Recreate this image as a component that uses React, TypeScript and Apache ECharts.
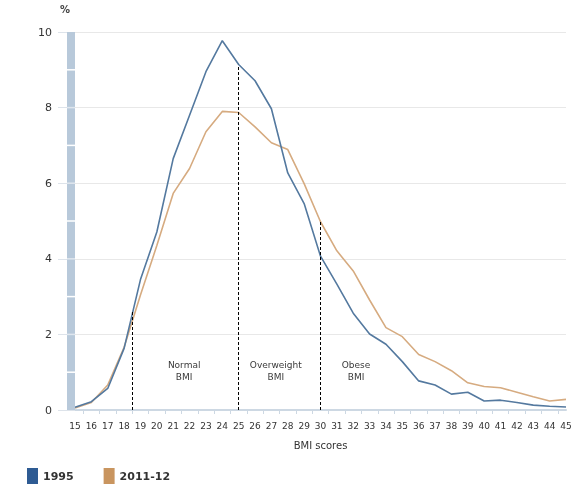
import { useEffect, useRef } from 'react';
import * as echarts from 'echarts';

const bmi = [15, 16, 17, 18, 19, 20, 21, 22, 23, 24, 25, 26, 27, 28, 29, 30, 31, 32, 33, 34, 35, 36, 37, 38, 39, 40, 41, 42, 43, 44, 45];
const values1995 = [0.07, 0.22, 0.57, 1.63, 3.45, 4.71, 6.65, 7.8, 8.95, 9.77, 9.14, 8.71, 7.97, 6.27, 5.46, 4.07, 3.33, 2.56, 2.01, 1.74, 1.28, 0.77, 0.66, 0.42, 0.47, 0.24, 0.26, 0.2, 0.13, 0.1, 0.08];
const values2011 = [0.05, 0.2, 0.66, 1.66, 3.04, 4.35, 5.73, 6.39, 7.36, 7.9, 7.87, 7.49, 7.07, 6.89, 5.99, 4.98, 4.21, 3.68, 2.91, 2.18, 1.94, 1.47, 1.28, 1.04, 0.72, 0.62, 0.59, 0.47, 0.35, 0.24, 0.28];

const cutoffs = [18.5, 25, 30];
const cutoffHeights = [2.6, 9.13, 4.98];

const zoneLabels = ['Normal\nBMI', 'Overweight\nBMI', 'Obese\nBMI'];
const zoneX = [21.7, 27.3, 32.2];
const zoneY = 1.02;

const FONT = '"DejaVu Sans", Verdana, sans-serif';

export default function App() {
  const chartRef = useRef<HTMLDivElement>(null);

  useEffect(() => {
    if (!chartRef.current) return;
    const chart = echarts.init(chartRef.current, null, { renderer: 'svg' });

    const option = {
      animation: false,
      textStyle: { fontFamily: FONT },
      grid: { left: 75, right: 14, top: 32, bottom: 83 },
      legend: {
        left: 22,
        top: 463,
        itemWidth: 11,
        itemHeight: 16,
        itemGap: 30,
        icon: 'rect',
        textStyle: { fontFamily: FONT, fontSize: 11, fontWeight: 'bold', color: '#333' },
        data: [
          { name: '1995', itemStyle: { color: '#2e5b93' } },
          { name: '2011-12', itemStyle: { color: '#c9955f' } },
        ],
      },
      xAxis: {
        type: 'value',
        min: 15,
        max: 45,
        interval: 1,
        name: 'BMI scores',
        nameLocation: 'middle',
        nameGap: 30,
        nameTextStyle: { fontFamily: FONT, fontSize: 10, color: '#333' },
        axisLine: { lineStyle: { color: '#cdd8e3', width: 2 } },
        axisTick: { show: false },
        minorTick: { show: true, splitNumber: 2, length: 4, lineStyle: { color: '#cdd8e3', width: 1 } },
        axisLabel: { fontFamily: FONT, fontSize: 9, color: '#333', margin: 11 },
        splitLine: { show: false },
      },
      yAxis: {
        type: 'value',
        min: 0,
        max: 10,
        interval: 2,
        axisLine: { show: false },
        axisTick: { show: true, length: 17, lineStyle: { color: '#dde3ea' } },
        axisLabel: { fontFamily: FONT, fontSize: 11, color: '#333', margin: 23 },
        splitLine: { lineStyle: { color: '#e8e8e8', width: 1 } },
      },
      series: [
        {
          name: '1995',
          type: 'line',
          data: bmi.map((x, i) => [x, values1995[i]]),
          showSymbol: false,
          color: '#2e5b93',
          lineStyle: { color: '#54799f', width: 1.6 },
          z: 3,
          markLine: {
            silent: true,
            symbol: 'none',
            label: { show: false },
            lineStyle: { color: '#000', type: [3, 2], width: 1 },
            data: cutoffs.map((c, i) => [{ coord: [c, 0] }, { coord: [c, cutoffHeights[i]] }]),
          },
        },
        {
          name: '2011-12',
          type: 'line',
          data: bmi.map((x, i) => [x, values2011[i]]),
          showSymbol: false,
          color: '#c9955f',
          lineStyle: { color: '#d6ab80', width: 1.6 },
          z: 2,
        },
        {
          name: 'zones',
          type: 'scatter',
          silent: true,
          symbol: 'circle',
          symbolSize: 1,
          itemStyle: { color: 'rgba(0,0,0,0)' },
          data: zoneLabels.map((n, i) => ({ name: n, value: [zoneX[i], zoneY] })),
          label: {
            show: true,
            position: [0, 0],
            align: 'center',
            verticalAlign: 'middle',
            formatter: '{b}',
            fontFamily: FONT,
            fontSize: 9,
            lineHeight: 12,
            color: '#000',
            textBorderWidth: 0,
          },
        },
      ],
    };

    chart.setOption(option);

    const [bx, by0] = chart.convertToPixel({ gridIndex: 0 }, [15, 0]) as number[];
    const by10 = (chart.convertToPixel({ gridIndex: 0 }, [15, 10]) as number[])[1];
    const seps = [1, 2, 3, 4, 5, 6, 7, 8, 9].map((v) => {
      const y = (chart.convertToPixel({ gridIndex: 0 }, [15, v]) as number[])[1];
      return {
        type: 'line',
        z: 11,
        shape: { x1: bx - 8, y1: y, x2: bx, y2: y },
        style: { stroke: v % 2 ? '#ffffff' : '#dfe6ee', lineWidth: 1.5 },
      };
    });

    chart.setOption({
      graphic: [
        {
          type: 'rect',
          z: 10,
          shape: { x: bx - 8, y: by10, width: 8, height: by0 - by10 },
          style: { fill: '#b8c9da' },
        },
        ...seps,
        {
          type: 'text',
          left: 60,
          top: 4,
          style: { text: '%', font: `bold 10px ${FONT}`, fill: '#444' },
        },
      ],
    });

    return () => {
      chart.dispose();
    };
  }, []);

  return <div ref={chartRef} style={{ position: 'fixed', left: 0, top: 0, width: 580, height: 493 }} />;
}
